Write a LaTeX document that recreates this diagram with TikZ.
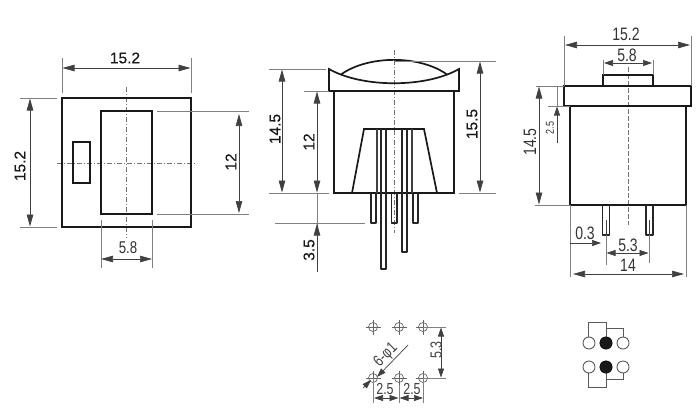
\documentclass[tikz,border=0pt]{standalone}
\usepackage{fontspec}
\setmainfont{Liberation Sans}
\newfontfamily\narrowfont[FakeStretch=0.78]{Liberation Sans}
\newfontfamily\heavyfont[FakeBold=0.35]{Liberation Sans}
\usetikzlibrary{arrows.meta}
\tikzset{
 outline/.style={draw=black!90,line width=1.7pt,line join=miter},
 pinline/.style={draw=black!85,line width=1.2pt,line join=round},
 thinpart/.style={draw=black!75,line width=1.1pt},
 ext/.style={draw=black!50,line width=0.7pt},
 dimline/.style={draw=black!75,line width=0.7pt},
 dimboth/.style={dimline,{Triangle[length=12pt,width=6.5pt]}-{Triangle[length=12pt,width=6.5pt]}},
 dimsmall/.style={dimline,{Triangle[length=9pt,width=6pt]}-{Triangle[length=9pt,width=6pt]}},
 dimto/.style={dimline,-{Triangle[length=12pt,width=6.5pt]}},
 dimtosmall/.style={dimline,-{Triangle[length=9pt,width=6pt]}},
 center/.style={draw=black!55,line width=0.7pt,dash pattern=on 5pt off 2pt on 1pt off 2pt},
 dimtext/.style={text=black!90,font=\heavyfont\fontsize{15.5}{15.5}\selectfont,inner sep=0pt},
 thintext/.style={text=black!80,font=\narrowfont\fontsize{18}{18}\selectfont,inner sep=0pt},
 holetext/.style={text=black!75,font=\narrowfont\fontsize{16}{16}\selectfont,inner sep=0pt},
 tinytext/.style={text=black!80,font=\narrowfont\fontsize{11.5}{11.5}\selectfont,inner sep=0pt},
 hole/.style={draw=black!60,line width=0.7pt},
 holecross/.style={draw=black!60,line width=0.6pt},
 circuit/.style={draw=black!65,line width=0.9pt},
 terminal/.style={circle,draw=black!65,fill=white,line width=0.9pt,minimum size=12pt,inner sep=0pt},
 contact/.style={circle,draw=black,fill=black!90,minimum size=12.5pt,inner sep=0pt},
}
\begin{document}
\begin{tikzpicture}[x=1pt,y=-1pt]
\useasboundingbox (0,0) rectangle (700,407);
\fill[white] (0,0) rectangle (700,407);
% --- left view
\draw[center] (126,87) -- (126,238);
\draw[center] (57,163) -- (197,163);
\draw[outline] (62,98) rectangle (191,227);
\draw[outline] (101,111) rectangle (152,214);
\draw[outline,line width=1.4pt] (73,142) rectangle (90,183);
\draw[ext] (62,58) -- (62,93) (191,58) -- (191,93);
\draw[dimboth] (62.5,68) -- (190.5,68);
\node[dimtext] (ltop) at (125,58) {15.2};
\draw[ext] (20,98) -- (57,98) (20,227) -- (57,227);
\draw[dimboth] (30,98.5) -- (30,226.5);
\node[dimtext,rotate=90] (lleft) at (20,166) {15.2};
\draw[ext] (157,111) -- (249,111) (157,214) -- (249,214);
\draw[dimboth] (239,114) -- (239,213);
\node[dimtext,rotate=90] (lright) at (231,162) {12};
\draw[ext] (101,220) -- (101,268) (152,220) -- (152,268);
\draw[dimboth] (101,259) -- (152,259);
\node[thintext,font=\narrowfont\fontsize{17}{17}\selectfont] (lbot) at (128,248) {5.8};
% --- middle view
\draw[center] (394,50) -- (394,233);
\draw[outline] (334,91) -- (334,193) -- (454,193) -- (454,91);
\draw[outline] (329,69) .. controls (362,88) and (426,88) .. (459,69) -- (459,91) -- (329,91) -- cycle;
\draw[outline] (341,74.5) .. controls (368,55) and (420,55) .. (447,74.5);
\draw[outline] (352,193) -- (364,129) -- (424,129) -- (437,193);
\draw[thinpart] (377,129) -- (377,193) (412,129) -- (412,193);
\draw[pinline] (381,129) -- (381,269) -- (386,269) -- (386,129);
\draw[pinline] (402,129) -- (402,252) -- (407,252) -- (407,129);
\draw[pinline] (371,193) -- (371,223) -- (376,223) -- (376,193);
\draw[pinline] (391.5,193) -- (391.5,223) -- (397,223) -- (397,193);
\draw[pinline] (413,193) -- (413,223) -- (418,223) -- (418,193);
\draw[ext] (269,69) -- (326,69) (269,193) -- (329,193);
\draw[dimboth] (282,69.5) -- (282,192.5);
\node[dimtext,rotate=90] (m145) at (275,129) {14.5};
\draw[ext] (304,91) -- (329,91);
\draw[dimboth] (317,91.5) -- (317,192.5);
\node[dimtext,rotate=90] (m12) at (309,142) {12};
\draw[ext] (275,223) -- (365,223);
\draw[ext] (317,193) -- (317,272);
\draw[dimto] (317,272) -- (317,223.5);
\node[dimtext,rotate=90] (m35) at (309,250) {3.5};
\draw[ext] (394,61) -- (496,61) (459,193) -- (496,193);
\draw[dimboth] (480,61.5) -- (480,192.5);
\node[dimtext,rotate=90] (m155) at (472,124) {15.5};
% --- right view
\draw[center,dash pattern=on 5pt off 2pt] (628,67) -- (628,225);
\draw[outline] (603,86) -- (603,75) -- (653,75) -- (653,86);
\draw[outline] (564,86) rectangle (691,106);
\draw[outline] (570,106) rectangle (686,205);
\draw[pinline] (602.5,205) -- (602.5,235) -- (609.5,235) -- (609.5,205);
\draw[thinpart,line width=0.6pt] (606,220) -- (606,235);
\draw[pinline] (646,205) -- (646,235) -- (653,235) -- (653,205);
\draw[thinpart,line width=0.6pt] (649.5,220) -- (649.5,235);
\draw[ext] (564,36) -- (564,86) (691,36) -- (691,86);
\draw[dimboth] (565,45) -- (690,45);
\node[thintext] (r152) at (626,34) {15.2};
\draw[ext] (603,60) -- (603,75) (653,60) -- (653,75);
\draw[dimsmall] (604,63) -- (652,63);
\node[thintext] (r58) at (627,55) {5.8};
\draw[ext] (536,86) -- (564,86) (535,205) -- (570,205);
\draw[dimboth] (539,86.5) -- (539,204.5);
\node[thintext,rotate=90] (r145) at (530,142) {14.5};
\draw[ext] (557,86) -- (557,106) (548,106) -- (570,106);
\draw[dimtosmall] (557,143) -- (557,106.5);
\node[tinytext,rotate=90] (r25) at (550,128) {2.5};
\draw[ext] (570,205) -- (570,277) (686,205) -- (686,277);
\draw[ext] (606,235) -- (606,265) (649,235) -- (649,263);
\draw[dimtosmall] (570,243) -- (601,243);
\node[thintext] (r03) at (585,233) {0.3};
\draw[dimsmall] (606.5,253) -- (648.5,253);
\node[thintext] (r53) at (628,245) {5.3};
\draw[dimboth] (573,274) -- (684,274);
\node[thintext] (r14) at (628,265) {14};
% --- hole pattern
\foreach \hx in {373,399,423}{\foreach \hy in {327,378}{
  \draw[hole] (\hx,\hy) circle (4.5);
  \draw[holecross] (\hx-7.5,\hy) -- (\hx+7.5,\hy) (\hx,\hy-7.5) -- (\hx,\hy+7.5);
}}
\draw[ext] (423,327) -- (446,327) (423,378) -- (446,378);
\draw[dimsmall] (441,327.5) -- (441,377.5);
\node[holetext,rotate=90] (h53) at (436,350) {5.3};
\draw[ext] (373,378) -- (373,403) (399,385) -- (399,403) (423,378) -- (423,403);
\draw[dimsmall] (374,398) -- (398.5,398);
\draw[dimsmall] (399.5,398) -- (423,398);
\node[holetext] (h25a) at (385,389) {2.5};
\node[holetext] (h25b) at (412,389) {2.5};
\draw[dimtosmall] (408,345) -- (377,377);
\draw[dimtosmall] (363,388) -- (371,380);
\node[holetext,rotate=45] (h6) at (386,355) {6-φ1};
% --- circuit symbol
\draw[circuit] (588,337) -- (588,322) -- (606,322) -- (606,337);
\draw[circuit] (606,328) -- (623,328) -- (623,337);
\draw[circuit] (588,373) -- (588,387) -- (606,387) -- (606,373);
\draw[circuit] (606,379) -- (623,379) -- (623,373);
\node[terminal] (t1) at (589,343) {};
\node[contact] (t2) at (606,343) {};
\node[terminal] (t3) at (623,343) {};
\node[terminal] (t4) at (589,367) {};
\node[contact] (t5) at (606,367) {};
\node[terminal] (t6) at (623,367) {};
\end{tikzpicture}
\end{document}
